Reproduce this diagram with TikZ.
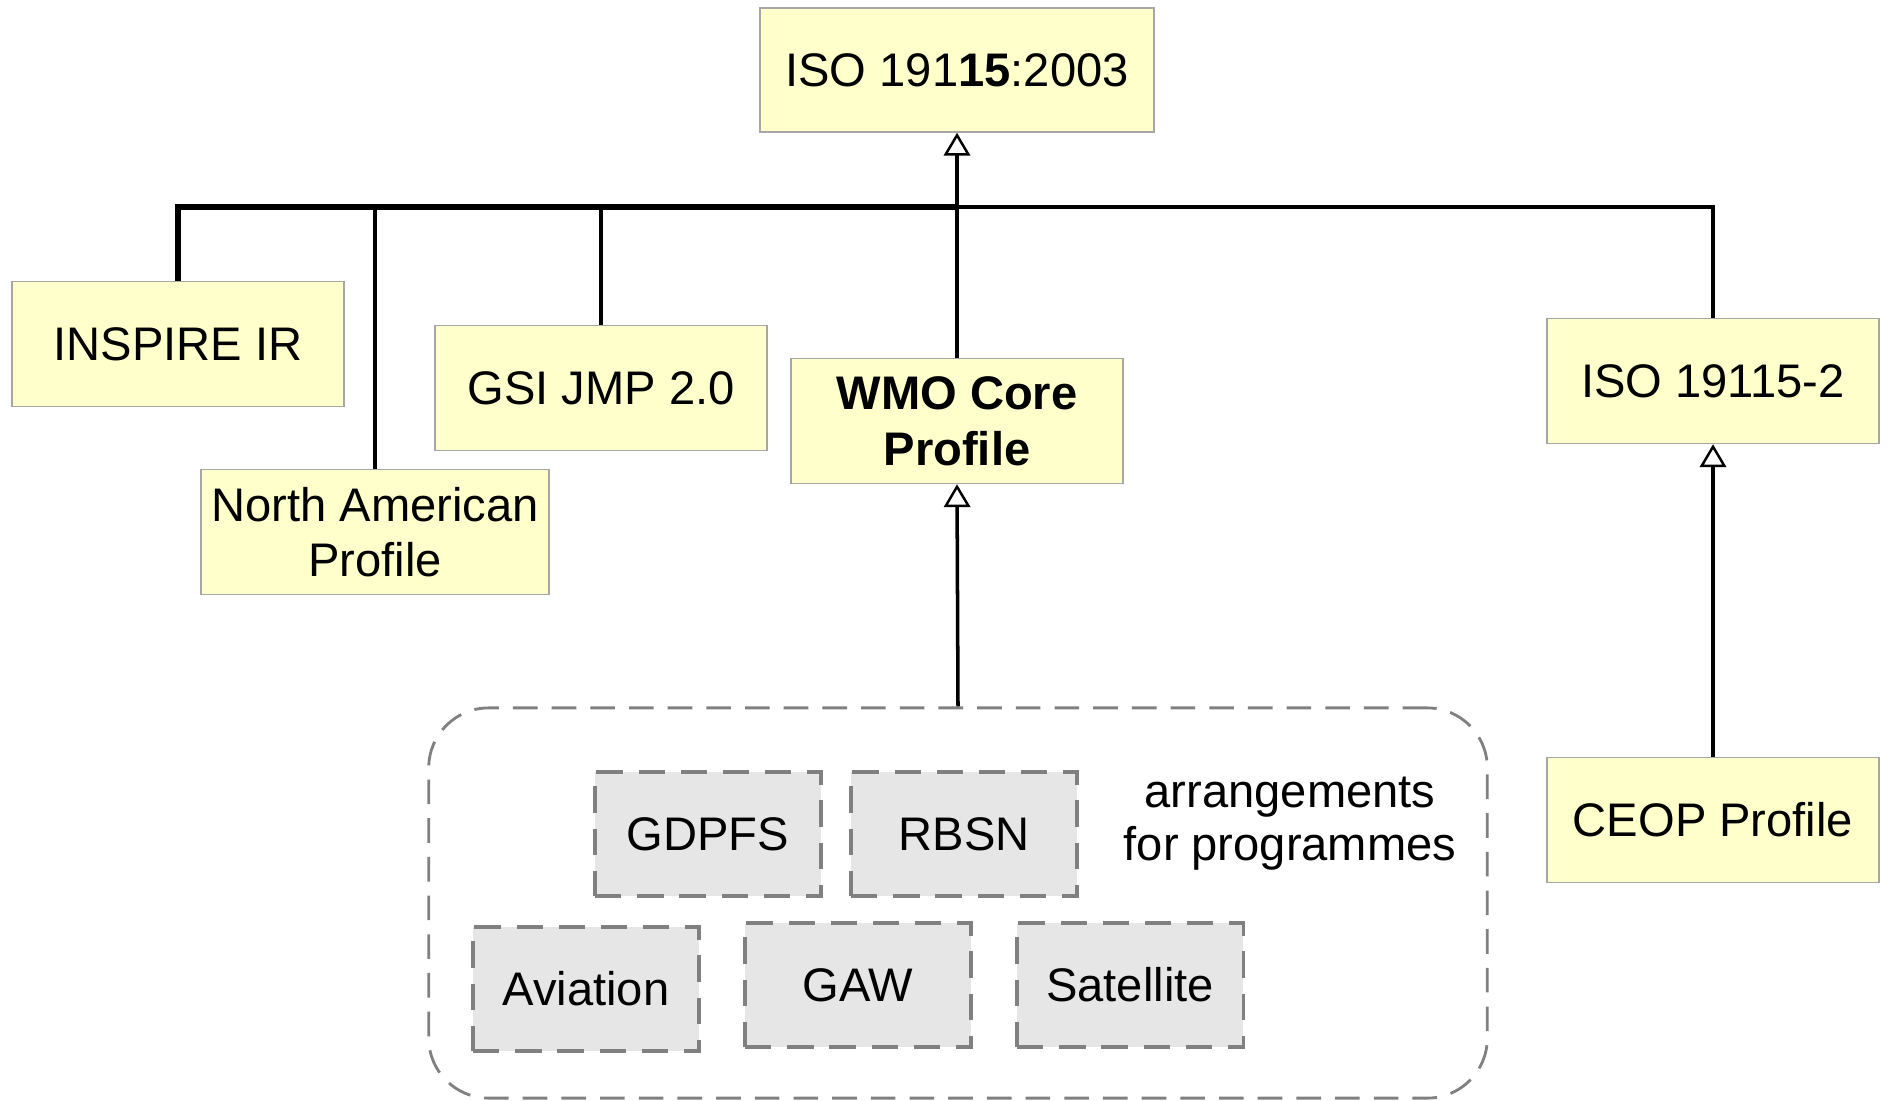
\documentclass[tikz,border=0pt]{standalone}
\usepackage{fontspec}
\setmainfont{Liberation Sans}
\usetikzlibrary{arrows.meta,positioning}
\definecolor{profyellow}{HTML}{FFFFCC}
\definecolor{proggray}{HTML}{E6E6E6}
\definecolor{dashgray}{HTML}{808080}

\begin{document}
\begin{tikzpicture}[x=0.01cm, y=-0.01cm,
  prof/.style={draw=gray!70,line width=0.4pt,fill=profyellow,minimum width=3.32cm,minimum height=1.25cm,inner sep=0pt,align=center,font=\fontsize{13.4}{15.8}\selectfont},
  progbox/.style={draw=dashgray,line width=0.9pt,dash pattern=on 7.5pt off 4.5pt,fill=proggray,minimum width=2.26cm,minimum height=1.24cm,inner sep=0pt,font=\fontsize{13.4}{15.8}\selectfont},
  gen/.style={line width=1pt,-{Triangle[open,fill=white,width=7.5pt,length=6.5pt,line width=0.7pt]}},
  bus/.style={line width=1pt}]
  \useasboundingbox (0,0) rectangle (1888,1100);

  \node[prof,minimum width=3.94cm,minimum height=1.24cm] (iso) at (957,70) {ISO 191\textbf{15}:2003};
  \node[prof] (inspire) at (178,344) {INSPIRE IR};
  \node[prof,minimum width=3.48cm] (na) at (375,532) {North American\\Profile};
  \node[prof] (gsi) at (601,388) {GSI JMP 2.0};
  \node[prof] (wmo) at (957,421) {\textbf{WMO Core}\\\textbf{Profile}};
  \node[prof] (iso2) at (1713,381) {ISO 19115-2};
  \node[prof] (ceop) at (1713,820) {CEOP Profile};

  \coordinate (bus) at (957,207);

  % programme arrangements
  \node[draw=dashgray,line width=0.8pt,dash pattern=on 7pt off 4pt,rounded corners=0.6cm,minimum width=10.58cm,minimum height=3.9cm] (prog) at (958,903) {};
  \node[progbox] (gdpfs) at (708,834) {GDPFS};
  \node[progbox] (rbsn) at (964,834) {RBSN};
  \node[progbox] (aviation) at (586,989) {Aviation};
  \node[progbox] (gaw) at (858,985) {GAW};
  \node[progbox] (satellite) at (1130,985) {Satellite};
  \node[align=center,font=\fontsize{13.4}{15}\selectfont] (arr) at (1290,824) {arrangements\\for programmes};

  % generalisation
  \draw[bus,line width=1.5pt] (inspire.north) |- (bus);
  \draw[bus] (na.north) -- (na.north |- bus);
  \draw[bus] (gsi.north) -- (gsi.north |- bus);
  \draw[bus] (iso2.north) |- (bus);
  \draw[gen] (wmo.north) -- (iso.south);
  \draw[gen] (prog.north) -- (wmo.south);
  \draw[gen] (ceop.north) -- (iso2.south);
\end{tikzpicture}
\end{document}
